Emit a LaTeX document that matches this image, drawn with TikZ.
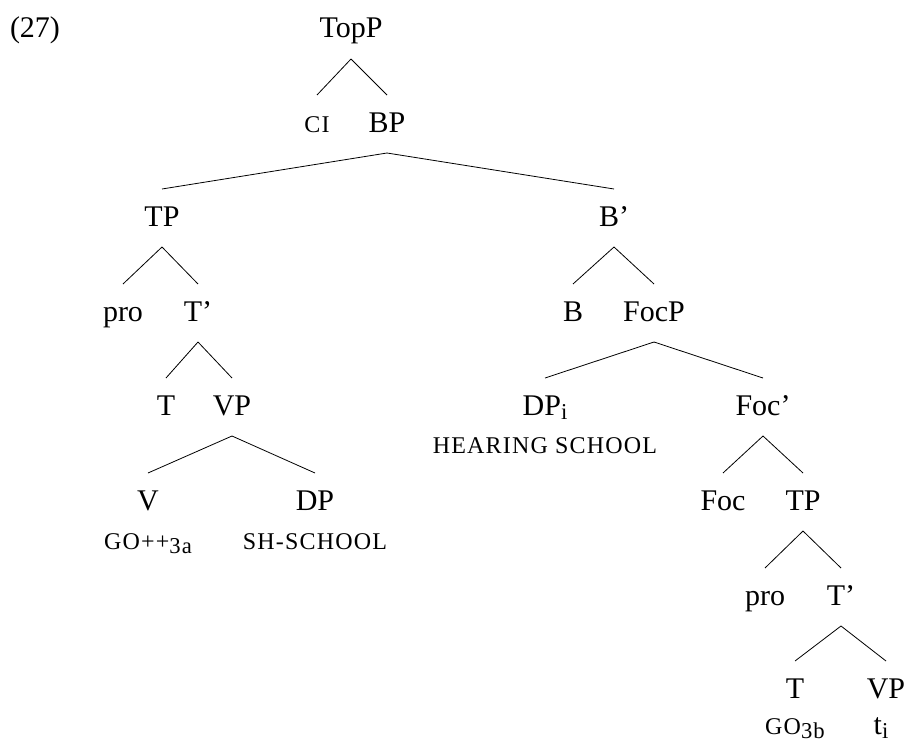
\documentclass[tikz,border=0pt]{standalone}
\usepackage{fontspec}
\setmainfont{Liberation Serif}
\usetikzlibrary{calc}
\tikzset{
  lab/.style={anchor=base, inner sep=0pt, font=\fontsize{22.5}{26}\selectfont},
  gloss/.style={anchor=base, inner sep=0pt, font=\fontsize{18}{20}\selectfont\addfontfeature{LetterSpace=5}},
  branch/.style={line width=0.6pt, black}
}
\newcommand{\brn}[2]{\draw[branch] ($(#1.base)+(0,21)$) -- ($(#2.base)+(0,-37)$);}
\newcommand{\lowsub}[1]{\raisebox{-3pt}{\fontsize{17}{20}\selectfont #1}}
\begin{document}
\begin{tikzpicture}[x=0.75pt,y=-0.75pt]
\useasboundingbox (0,0) rectangle (906,742);
\node[lab] (ex) at (35,38) {(27)};
\node[lab] (topp) at (351,38) {TopP};
\node[gloss] (ci) at (317,132) {CI};
\node[lab] (bp) at (387,132) {BP};
\node[lab] (tp) at (162,226) {TP};
\node[lab] (bbar) at (614,226) {B’};
\node[lab] (pro) at (123,321) {pro};
\node[lab] (tbar) at (198,321) {T’};
\node[lab] (b) at (573,321) {B};
\node[lab] (focp) at (654,321) {FocP};
\node[lab] (t) at (166,415) {T};
\node[lab] (vp) at (232,415) {VP};
\node[lab] (dpi) at (545,415) {DP\lowsub{i}};
\node[lab] (focbar) at (763,415) {Foc’};
\node[lab] (v) at (148,510) {V};
\node[lab] (dp) at (315,510) {DP};
\node[lab] (foc) at (723,510) {Foc};
\node[lab] (tpb) at (803,510) {TP};
\node[gloss] (go) at (148,549) {GO++\lowsub{3a}};
\node[gloss] (sh) at (315,549) {SH-SCHOOL};
\node[gloss] (hs) at (545,453) {HEARING SCHOOL};
\node[lab] (prob) at (765,605) {pro};
\node[lab] (tbarb) at (841,605) {T’};
\node[lab] (tb) at (795,698) {T};
\node[lab] (vpb) at (886,698) {VP};
\node[gloss] (gob) at (795,734) {GO\lowsub{3b}};
\node[lab] (ti) at (881,734) {t\lowsub{i}};
\brn{topp}{ci}
\brn{topp}{bp}
\brn{bp}{tp}
\brn{bp}{bbar}
\brn{tp}{pro}
\brn{tp}{tbar}
\brn{tbar}{t}
\brn{tbar}{vp}
\brn{vp}{v}
\brn{vp}{dp}
\brn{bbar}{b}
\brn{bbar}{focp}
\brn{focp}{dpi}
\brn{focp}{focbar}
\brn{focbar}{foc}
\brn{focbar}{tpb}
\brn{tpb}{prob}
\brn{tpb}{tbarb}
\brn{tbarb}{tb}
\brn{tbarb}{vpb}
\end{tikzpicture}
\end{document}
